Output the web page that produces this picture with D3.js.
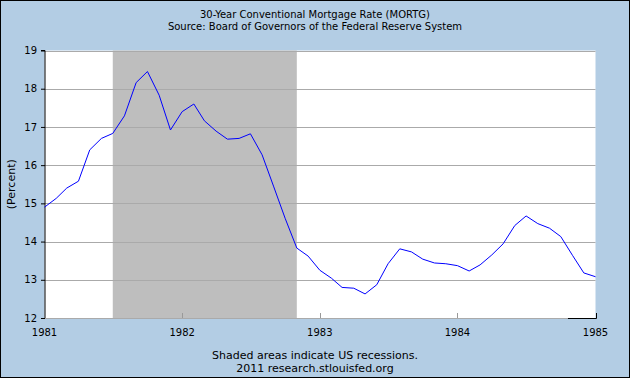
<!DOCTYPE html>
<html>
<head>
<meta charset="utf-8">
<script src="https://cdn.jsdelivr.net/npm/d3@7"></script>
<style>
body { margin: 0; }
svg { display: block; font-family: "DejaVu Sans", Verdana, sans-serif; }
</style>
</head>
<body>
<div id="chart"></div>
<script>
// monthly values, Jan 1981 .. Jan 1985
var startMonth = "1981-01";
var rates = [
	14.90, 15.13, 15.40, 15.58, 16.40, 16.70, 16.83, 17.29, 18.16, 18.45, 17.83, 16.92,
	17.40, 17.60, 17.16, 16.89, 16.68, 16.70, 16.82, 16.27, 15.43, 14.61, 13.83, 13.62,
	13.25, 13.04, 12.80, 12.78, 12.63, 12.87, 13.42, 13.81, 13.73, 13.54, 13.44, 13.42,
	13.37, 13.23, 13.39, 13.65, 13.94, 14.42, 14.67, 14.47, 14.35, 14.13, 13.64, 13.18,
	13.08
];
var recession = ["1981-07-01", "1982-11-01"];
var yTicks = [12, 13, 14, 15, 16, 17, 18, 19];
var xTicks = ["1981", "1982", "1983", "1984", "1985"];
var titleLines = ["30-Year Conventional Mortgage Rate (MORTG)", "Source: Board of Governors of the Federal Reserve System"];
var footLines = ["Shaded areas indicate US recessions.", "2011 research.stlouisfed.org"];

var width = 630, height = 378;
var margin = {top: 50.5, right: 34.5, bottom: 60, left: 44.5};
var parseMonth = d3.timeParse("%Y-%m");
var parseDay = d3.timeParse("%Y-%m-%d");
var parseYear = d3.timeParse("%Y");

var dates = rates.map(function(d, i) { return d3.timeMonth.offset(parseMonth(startMonth), i); });

var svg = d3.select("#chart").append("svg")
	.attr("width", width)
	.attr("height", height);

//background + border
svg.append("rect")
	.attr("x", 0.5).attr("y", 0.5)
	.attr("width", width - 1).attr("height", height - 1)
	.attr("fill", "#b3cde4")
	.attr("stroke", "#000");

var xScale = d3.scaleTime()
	.domain([parseYear("1981"), parseYear("1985")])
	.range([margin.left, width - margin.right]);

var yScale = d3.scaleLinear()
	.domain([12, 19])
	.range([height - margin.bottom, margin.top]);

//plot area
svg.append("rect")
	.attr("x", xScale.range()[0]).attr("y", yScale(19))
	.attr("width", xScale.range()[1] - xScale.range()[0])
	.attr("height", yScale(12) - yScale(19))
	.attr("fill", "#fff");

//recession shading
svg.append("rect")
	.attr("x", xScale(parseDay(recession[0])))
	.attr("y", yScale(19))
	.attr("width", xScale(parseDay(recession[1])) - xScale(parseDay(recession[0])))
	.attr("height", yScale(12) - yScale(19))
	.attr("fill", "#bebebe");

//grid lines
svg.append("g")
	.selectAll("line")
	.data(yTicks)
	.enter()
	.append("line")
	.attr("x1", xScale.range()[0])
	.attr("x2", xScale.range()[1])
	.attr("y1", function(d) { return Math.round(yScale(d)) + 0.5; })
	.attr("y2", function(d) { return Math.round(yScale(d)) + 0.5; })
	.attr("stroke", "#aaa");

//x ticks (inside, gray)
svg.append("g")
	.selectAll("line")
	.data(xTicks.slice(1, 4))
	.enter()
	.append("line")
	.attr("x1", function(d) { return Math.round(xScale(parseYear(d))) + 0.5; })
	.attr("x2", function(d) { return Math.round(xScale(parseYear(d))) + 0.5; })
	.attr("y1", yScale(12) - 5)
	.attr("y2", yScale(12))
	.attr("stroke", "#999");

//small black bit at bottom right
svg.append("path")
	.attr("d", "M" + (xScale(parseDay("1984-10-20"))) + "," + (Math.round(yScale(12)) + 0.5) +
		"H" + (Math.round(xScale.range()[1]) + 0.5) + "V" + (yScale(12) - 5))
	.attr("fill", "none")
	.attr("stroke", "#000");

//x labels
svg.append("g")
	.selectAll("text")
	.data(xTicks)
	.enter()
	.append("text")
	.attr("x", function(d) { return xScale(parseYear(d)); })
	.attr("y", yScale(12) + 18)
	.attr("text-anchor", "middle")
	.attr("font-size", 10)
	.attr("fill", "#000")
	.text(function(d) { return d; });

//y axis
var yAxis = d3.axisLeft(yScale)
	.tickValues(yTicks)
	.tickFormat(d3.format("d"))
	.tickSize(4)
	.tickPadding(4);
var gy = svg.append("g")
	.attr("transform", "translate(" + Math.round(margin.left) + ",0)")
	.call(yAxis);
gy.select(".domain").attr("d", "M-4," + yScale(19) + "H0V" + yScale(12));
gy.selectAll("text").attr("font-size", 10).attr("font-family", "DejaVu Sans, sans-serif");

//line
var line = d3.line()
	.x(function(d, i) { return xScale(dates[i]); })
	.y(function(d) { return yScale(d); });

svg.append("path")
	.datum(rates)
	.attr("d", line)
	.attr("fill", "none")
	.attr("stroke", "#0000ff")
	.attr("stroke-width", 1);

//titles
svg.append("g")
	.selectAll("text")
	.data(titleLines)
	.enter()
	.append("text")
	.attr("x", 315)
	.attr("y", function(d, i) { return 18 + i * 12; })
	.attr("text-anchor", "middle")
	.attr("font-size", 10)
	.attr("fill", "#000")
	.text(function(d) { return d; });

svg.append("g")
	.selectAll("text")
	.data(footLines)
	.enter()
	.append("text")
	.attr("x", 315)
	.attr("y", function(d, i) { return 359 + i * 13; })
	.attr("text-anchor", "middle")
	.attr("font-size", 11)
	.attr("fill", "#000")
	.text(function(d) { return d; });

//y label
svg.append("text")
	.attr("transform", "translate(15," + ((yScale(12) + yScale(19)) / 2) + ") rotate(-90)")
	.attr("text-anchor", "middle")
	.attr("font-size", 11)
	.attr("fill", "#000")
	.text("(Percent)");
</script>
</body>
</html>
